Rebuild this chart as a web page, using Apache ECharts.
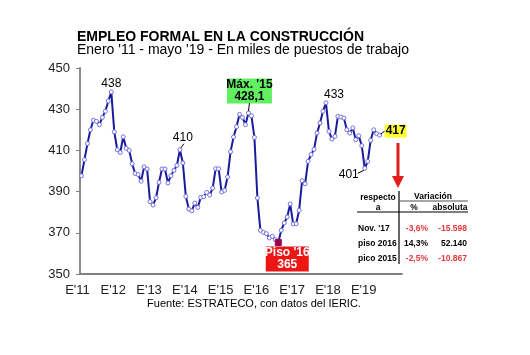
<!DOCTYPE html>
<html><head><meta charset="utf-8">
<script src="https://cdn.jsdelivr.net/npm/echarts@6/dist/echarts.min.js"></script>
<style>html,body{margin:0;padding:0;background:#fff}#c{width:530px;height:355px}</style>
</head><body><div id="c"></div>
<script>
const yearLabels = ["E'11","E'12","E'13","E'14","E'15","E'16","E'17","E'18","E'19"];
const monthNames = ["ene","feb","mar","abr","may","jun","jul","ago","sep","oct","nov","dic"];
// Empleo formal, miles de puestos, ene-2011 .. may-2019
const empleo = [
 397.7,405.5,413.3,420.0,424.6,424.1,422.5,426.0,429.0,434.0,438.4,419.0,
 410.3,409.0,416.6,411.0,410.0,403.5,398.8,398.3,395.1,402.0,401.0,385.1,
 383.5,387.0,394.5,401.0,401.0,394.2,397.7,400.3,402.7,410.3,403.9,387.7,
 381.5,380.7,384.4,382.3,387.2,387.5,389.6,388.3,391.7,401.1,401.1,389.8,
 390.6,397.1,409.4,416.5,421.5,427.5,426.0,422.5,428.1,426.8,416.3,386.9,
 371.2,370.2,369.6,367.5,368.3,366.7,365.3,371.2,374.8,377.7,384.0,374.3,
 374.4,380.9,395.3,393.8,404.7,408.0,410.5,418.4,423.3,429.0,433.1,419.2,
 415.5,416.8,426.5,426.2,425.7,420.0,418.4,420.9,415.2,417.1,412.3,401.3,
 404.7,414.9,420.0,418.1,417.4
];
const yMin = 350, yMax = 450, yStep = 20;
const tableRows = ["Nov. '17","piso 2016","pico 2015"];
const tablePct = ["-3,6%","14,3%","-2,5%"];
const tableAbs = ["-15.598","52.140","-10.867"];
const tableNeg = [true,false,true];

const categories = [];
yearLabels.forEach(function(y){ monthNames.forEach(function(m){ categories.push(m + "'" + y.slice(2)); }); });

const FONT = "'Liberation Sans', Arial, sans-serif";
const pisoIdx = empleo.indexOf(Math.min.apply(null, empleo));

const seriesData = empleo.map(function(v, i){
  if (i === pisoIdx) return {value: v, symbol: 'rect', symbolSize: 6, itemStyle: {color: '#9a0050', borderColor: '#9a0050'}};
  return v;
});

const chart = echarts.init(document.getElementById('c'), null, {renderer: 'canvas'});
chart.setOption({
  animation: false,
  backgroundColor: '#fff',
  grid: {left: 80, right: 128, top: 68, bottom: 81},
  xAxis: {
    type: 'category', data: categories, boundaryGap: true,
    axisLine: {lineStyle: {color: '#808080', width: 1.8}},
    axisTick: {interval: 0, length: 3, lineStyle: {color: '#808080'}},
    axisLabel: {interval: 11, margin: 10, color: '#222', fontSize: 13, fontFamily: FONT, padding: [0, 8, 0, 0],
      formatter: function(v, idx){ return idx % 12 === 0 ? yearLabels[idx / 12] : ''; }},
    splitLine: {show: false}
  },
  yAxis: {
    type: 'value', min: yMin, max: yMax, interval: yStep,
    axisLine: {show: true, lineStyle: {color: '#808080', width: 1.8}},
    axisTick: {show: true, length: 4, lineStyle: {color: '#808080'}},
    axisLabel: {margin: 10, color: '#222', fontSize: 13, fontFamily: FONT},
    splitLine: {show: false}
  },
  series: [{
    type: 'line', data: seriesData, symbol: 'circle', symbolSize: 4, showAllSymbol: true,
    lineStyle: {color: '#1a1a9c', width: 2},
    itemStyle: {color: '#ffffff', borderColor: '#7070e0', borderWidth: 1}
  }]
});

function px(i){ return chart.convertToPixel({xAxisIndex: 0, yAxisIndex: 0}, [i, empleo[i]]); }
const g = [];
function txt(x, y, t, opt){
  opt = opt || {};
  g.push({type: 'text', x: x, y: y, z: 20, style: {text: t, font: (opt.weight || 'normal') + ' ' + (opt.size || 12) + 'px ' + FONT,
    fill: opt.color || '#000', align: opt.align || 'center', verticalAlign: 'middle', lineHeight: opt.lh || 12}});
}
function line(x1, y1, x2, y2, color, w){
  g.push({type: 'line', z: 19, shape: {x1: x1, y1: y1, x2: x2, y2: y2}, style: {stroke: color || '#000', lineWidth: w || 1}});
}
function box(cx, cy, w, h, color){
  g.push({type: 'rect', z: 18, shape: {x: cx - w / 2, y: cy - h / 2, width: w, height: h}, style: {fill: color}});
}
// Title
txt(77, 37, 'EMPLEO FORMAL EN LA CONSTRUCCIÓN', {weight: 'bold', size: 14, align: 'left'});
txt(77, 50, "Enero '11 - mayo '19 - En miles de puestos de trabajo", {size: 14, align: 'left'});
// peak labels
const maxA = empleo.indexOf(Math.max.apply(null, empleo.slice(0, 24)));
let p = px(maxA); txt(p[0], p[1] - 8, String(Math.round(empleo[maxA])));
const i410 = 33; p = px(i410); txt(p[0] + 3, p[1] - 12, '410'); line(p[0] + 1, p[1] - 2, p[0] + 4, p[1] - 6);
const iMax15 = 56; p = px(iMax15);
box(p[0] + 1, p[1] - 22, 45, 25, '#62f062'); line(p[0], p[1] - 2, p[0] + 1, p[1] - 10);
txt(p[0] + 1, p[1] - 22, "Máx. '15\n" + empleo[iMax15].toFixed(1).replace('.', ','), {weight: 'bold'});
p = px(pisoIdx);
box(p[0] + 9, p[1] + 16.5, 43, 25, '#ee1515');
txt(p[0] + 9, p[1] + 16.5, "Piso '16\n" + Math.round(empleo[pisoIdx]), {weight: 'bold', color: '#fff'});
const i433 = 82; p = px(i433); txt(p[0] + 8, p[1] - 8, String(Math.round(empleo[i433])));
const i401 = 95; p = px(i401); txt(p[0] - 16, p[1] + 6, String(Math.round(empleo[i401]))); line(p[0] - 7, p[1] + 5, p[0] - 1, p[1] + 2);
const iLast = empleo.length - 1; p = px(iLast);
box(p[0] + 16, p[1] - 4, 22, 13, '#ffff30'); line(p[0] + 1, p[1] - 1, p[0] + 5, p[1] - 4);
txt(p[0] + 16, p[1] - 4, String(Math.round(empleo[iLast])), {weight: 'bold'});
// red arrow
line(398, 143, 398, 178, '#e31b1b', 3);
g.push({type: 'polygon', z: 19, shape: {points: [[392, 176], [404, 176], [398, 188]]}, style: {fill: '#e31b1b'}});
// table
line(399, 191, 399, 264, '#000', 1.2);
line(400, 201, 468, 201, '#888', 1.6);
line(357, 212, 468, 212, '#000', 1.2);
const tf = {weight: 'bold', size: 8.5};
txt(378, 198, 'respecto', tf); txt(378, 208, 'a', tf);
txt(433, 197, 'Variación', tf); txt(414, 208, '%', tf); txt(450, 208, 'absoluta', tf);
const rowY = [229, 244, 259];
tableRows.forEach(function(r, k){
  txt(358, rowY[k], r, {weight: 'bold', size: 8.5, align: 'left'});
  const c = tableNeg[k] ? '#e23a3a' : '#000';
  txt(428, rowY[k], tablePct[k], {weight: 'bold', size: 8.5, align: 'right', color: c});
  txt(467, rowY[k], tableAbs[k], {weight: 'bold', size: 8.5, align: 'right', color: c});
});
// source
txt(254, 304, 'Fuente: ESTRATECO, con datos del IERIC.', {size: 11});
chart.setOption({graphic: {elements: g}});
</script>
</body></html>
